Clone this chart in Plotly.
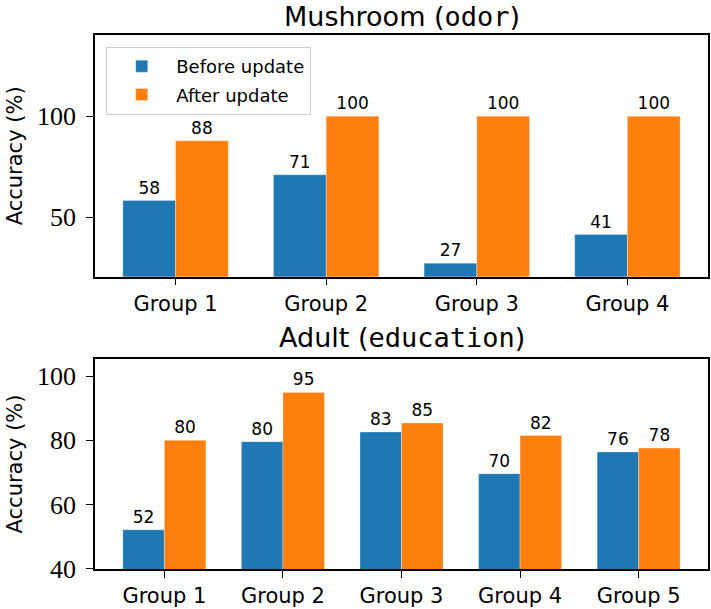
import plotly.graph_objects as go
from plotly.subplots import make_subplots

# ---- data ----
mush_groups = ["Group 1", "Group 2", "Group 3", "Group 4"]
mush_before = [58.2, 71.0, 27.2, 41.4]
mush_after = [87.8, 100.0, 100.0, 100.0]

adult_groups = ["Group 1", "Group 2", "Group 3", "Group 4", "Group 5"]
adult_before = [52.2, 79.6, 82.6, 69.6, 76.4]
adult_after = [80.0, 94.9, 85.4, 81.5, 77.6]

series_names = ["Before update", "After update"]
colors = ["#1f77b4", "#ff7f0e"]

mush_ticks = [50, 100]
adult_ticks = [40, 60, 80, 100]

SANS = "DejaVu Sans"
SERIF = "Liberation Serif"
MONO = "DejaVu Sans Mono"

fig = make_subplots(rows=2, cols=1, vertical_spacing=0.1)

def add_bars(groups, before, after, row, show_legend):
    for name, vals, col in zip(series_names, [before, after], colors):
        fig.add_trace(go.Bar(
            x=groups, y=vals, name=name,
            marker=dict(color=col, line=dict(width=0.6, color="rgba(255,255,255,0.5)")),
            texttemplate="%{y:.0f}", textposition="outside",
            textfont=dict(family=SANS, size=17, color="black"),
            constraintext="none", cliponaxis=False,
            showlegend=show_legend, legendgroup=name,
        ), row=row, col=1)

add_bars(mush_groups, mush_before, mush_after, 1, True)
add_bars(adult_groups, adult_before, adult_after, 2, False)

axis_common = dict(
    showline=True, linecolor="black", linewidth=1.5, mirror=True,
    ticks="outside", ticklen=7, tickwidth=1.3, tickcolor="black",
    showgrid=False, zeroline=False,
)

fig.update_xaxes(**axis_common, tickfont=dict(family=SANS, size=21, color="black"))
fig.update_yaxes(**axis_common, tickfont=dict(family=SERIF, size=26, color="black"),
                 ticklabelstandoff=5)

fig.update_xaxes(range=[-0.535, 3.535], row=1, col=1)
fig.update_xaxes(range=[-0.585, 4.585], row=2, col=1)
fig.update_yaxes(range=[20.5, 140.2], tickvals=mush_ticks, domain=[0.5473, 1.0], row=1, col=1)
fig.update_yaxes(range=[40, 105.3], tickvals=adult_ticks, domain=[0.0, 0.3933], row=2, col=1)

for r in (1, 2):
    fig.update_yaxes(title=dict(text="Accuracy (%)", font=dict(family=SANS, size=21, color="black"), standoff=9),
                     row=r, col=1)

fig.add_annotation(
    text=f"Mushroom (<span style='font-family:{MONO}'>odor</span>)",
    xref="paper", yref="paper", x=0.5, y=1.035, xanchor="center", yanchor="middle",
    showarrow=False, font=dict(family=SANS, size=27, color="black"),
)
fig.add_annotation(
    text=f"Adult (<span style='font-family:{MONO}'>education</span>)",
    xref="paper", yref="paper", x=0.5, y=0.434, xanchor="center", yanchor="middle",
    showarrow=False, font=dict(family=SANS, size=27, color="black"),
)

fig.update_layout(
    width=711, height=609,
    margin=dict(l=95, r=1, t=35, b=35),
    paper_bgcolor="white", plot_bgcolor="white",
    barmode="group", bargap=0.3, bargroupgap=0.0,
    legend=dict(
        x=0.018, y=0.978, xanchor="left", yanchor="top",
        bgcolor="rgba(255,255,255,0.8)", bordercolor="#cccccc", borderwidth=1.2,
        font=dict(family=SANS, size=18, color="black"),
        tracegroupgap=2, itemwidth=59,
    ),
)

fig.write_html(
    "out.html",
    config={"displayModeBar": False},
    post_script="document.body.style.margin='0';document.body.style.overflow='hidden';",
)
